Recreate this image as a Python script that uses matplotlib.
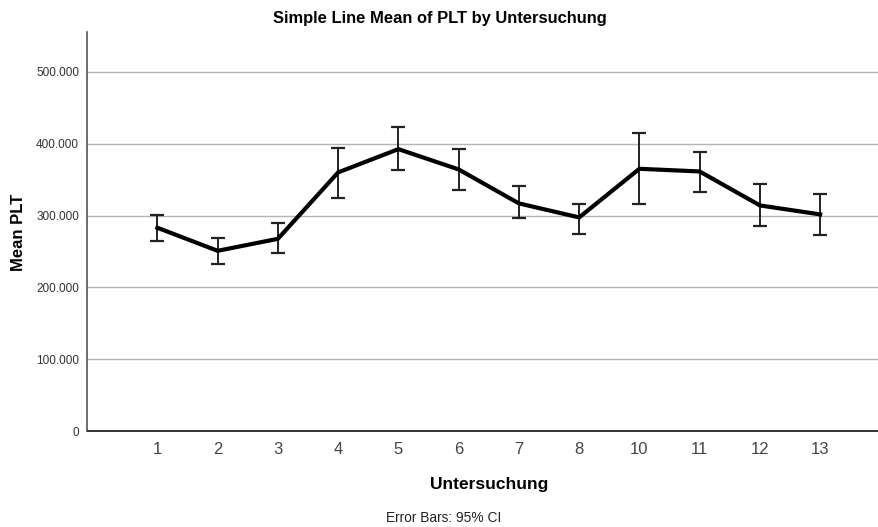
import matplotlib
matplotlib.use("Agg")
import matplotlib.pyplot as plt
import numpy as np

categories = ["1", "2", "3", "4", "5", "6", "7", "8", "10", "11", "12", "13"]
means = [283.0, 250.9, 267.6, 360.1, 392.5, 364.2, 316.9, 297.4, 365.1, 361.4, 314.1, 301.6]
ci_upper = [300.6, 268.2, 289.1, 394.3, 422.7, 392.9, 340.6, 316.4, 414.3, 388.7, 343.4, 329.9]
ci_lower = [264.4, 232.4, 247.3, 324.3, 362.8, 335.8, 296.0, 274.6, 315.9, 332.6, 285.3, 272.8]
yticks = [0, 100, 200, 300, 400, 500]
ytick_labels = ["0", "100.000", "200.000", "300.000", "400.000", "500.000"]

plt.rcParams['font.family'] = ['Liberation Sans', 'DejaVu Sans']

fig = plt.figure(figsize=(8.79, 5.27), dpi=100)
ax = fig.add_axes([87.5 / 879, 1 - 431 / 527, (878 - 87.5) / 879, (431 - 31.7) / 527])

x = np.arange(len(categories))
m = np.array(means)
lo = m - np.array(ci_lower)
hi = np.array(ci_upper) - m

ax.errorbar(x, m, yerr=[lo, hi], fmt='none', ecolor='#222222', elinewidth=1.4,
            capsize=5, capthick=1.6, zorder=3)
ax.plot(x, m, color='black', linewidth=3.0, solid_joinstyle='miter', zorder=4)

ax.set_xlim(-1.16, 11.96)
ax.set_ylim(0, 556)
ax.set_yticks(yticks)
ax.set_yticklabels(ytick_labels, fontsize=8.5, color='#333333')
ax.set_xticks(x)
ax.set_xticklabels(categories, fontsize=12, color='#444444')
ax.tick_params(axis='both', length=0)
ax.tick_params(axis='y', pad=6)
ax.tick_params(axis='x', pad=8)

for yv in yticks[1:]:
    ax.axhline(yv, color='#b4b4b4', linewidth=1.0, zorder=1)

for s in ['top', 'right']:
    ax.spines[s].set_visible(False)
ax.spines['left'].set_color('#555555')
ax.spines['left'].set_linewidth(1.2)
ax.spines['bottom'].set_color('#111111')
ax.spines['bottom'].set_linewidth(1.2)

fig.text(440 / 879, 1 - 19 / 527, "Simple Line Mean of PLT by Untersuchung",
         ha='center', va='center', fontsize=11.9, fontweight='bold')
fig.text(18.5 / 879, 1 - 232 / 527, "Mean PLT", rotation=90, ha='center', va='center',
         fontsize=12, fontweight='bold')
fig.text(489 / 879, 1 - 484 / 527, "Untersuchung", ha='center', va='center',
         fontsize=12.5, fontweight='bold')
fig.text(444 / 879, 1 - 518 / 527, "Error Bars: 95% CI", ha='center', va='center',
         fontsize=9.9, color='#222222')

fig.savefig("out.png", dpi=100)
